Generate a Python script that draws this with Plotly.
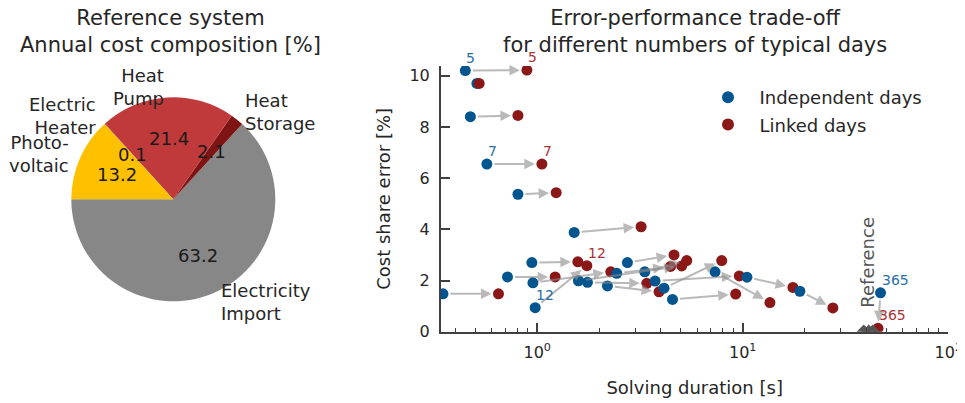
import math
import plotly.graph_objects as go

# ---------------- data ----------------
pie_labels = ["Electricity<br>Import", "Heat<br>Storage", "Heat<br>Pump", "Electric<br>Heater", "Photo-<br>voltaic"]
pie_values = [63.2, 2.1, 21.4, 0.1, 13.2]
pie_colors = ["#878787", "#7f1414", "#c0393b", "#d9534f", "#ffc000"]

# solving duration [s] and cost share error [%] for each number of typical days
ind_duration = [0.447, 0.509, 0.473, 0.569, 0.806, 1.513, 0.942, 0.717, 0.348, 0.978, 0.953, 1.587,
                1.756, 2.196, 2.439, 2.747, 3.337, 3.744, 4.141, 4.553, 7.33, 10.48, 18.96, 46.8]
ind_error = [10.20, 9.70, 8.40, 6.55, 5.37, 3.88, 2.70, 2.14, 1.48, 0.94, 1.91, 1.99,
             1.93, 1.79, 2.28, 2.70, 2.34, 1.98, 1.70, 1.26, 2.34, 2.13, 1.58, 1.52]
lnk_duration = [0.891, 0.522, 0.806, 1.054, 1.237, 3.202, 1.577, 1.223, 0.648, 1.744, 2.281, 5.048,
                3.413, 3.915, 4.453, 4.630, 5.339, 9.62, 7.90, 9.24, 13.56, 17.54, 27.44, 45.5]
lnk_error = [10.22, 9.70, 8.45, 6.55, 5.43, 4.10, 2.73, 2.14, 1.48, 2.58, 2.34, 2.57,
             1.89, 1.56, 2.55, 3.00, 2.78, 2.18, 2.78, 1.47, 1.14, 1.73, 0.93, 0.13]
day_labels = ["5", "", "", "7", "", "", "", "", "", "12", "", "",
              "", "", "", "", "", "", "", "", "", "", "", "365"]
ref_duration = [38.8, 41.0, 42.9]
ref_error = [0.0, 0.0, 0.0]

x_ticks = [1, 10, 100]
x_ticktext = ["10<sup>0</sup>", "10<sup>1</sup>", "10<sup>2</sup>"]
y_ticks = [0, 2, 4, 6, 8, 10]

# ---------------- style / geometry ----------------
OFF = 8                      # page body margin
FW, FH = 965 - OFF, 403 - OFF
FONT = "DejaVu Sans"
TXT = "#262626"
AX = "#404040"
BLUE = "#03558f"
RED = "#8b1717"
BLUE_L = "#2b6ea3"
RED_L = "#a83333"


def px(x):
    return (x - OFF) / FW


def py(y):
    return 1 - (y - OFF) / FH


fig = go.Figure()

# pie geometry (pixels in the window)
pcx, pcy, pr = 173.3, 199.3, 102.0
total = sum(pie_values)
fig.add_trace(go.Pie(
    labels=pie_labels, values=pie_values, sort=False, direction="counterclockwise",
    rotation=270 - 360 * pie_values[0] / total,
    marker=dict(colors=pie_colors, line=dict(width=0)),
    textinfo="none", hoverinfo="label+value", showlegend=False,
    domain=dict(x=[px(pcx - pr), px(pcx + pr)], y=[py(pcy + pr), py(pcy - pr)]),
))

annotations = []
cum = 0.0
for lab, v in zip(pie_labels, pie_values):
    mid = math.radians(180 + (cum + v / 2) / total * 360)
    cum += v
    c, s = math.cos(mid), math.sin(mid)
    annotations.append(dict(
        x=px(pcx + 0.6 * pr * c), y=py(pcy - 0.6 * pr * s), xref="paper", yref="paper",
        text=f"{v:.1f}", showarrow=False, font=dict(size=18, color="#1a1a1a", family=FONT),
        xanchor="center", yanchor="middle"))
    side = "left" if c >= 0 else "right"
    annotations.append(dict(
        x=px(pcx + 1.1 * pr * c), y=py(pcy - 1.1 * pr * s), xref="paper", yref="paper",
        text=lab, showarrow=False, font=dict(size=18, color=TXT, family=FONT),
        xanchor=side, align=side, yanchor="middle"))

# titles
annotations.append(dict(x=px(170), y=py(32), xref="paper", yref="paper",
                        text="Reference system<br>Annual cost composition [%]", showarrow=False,
                        font=dict(size=21, color=TXT, family=FONT), xanchor="center", yanchor="middle",
                        borderpad=0))
annotations.append(dict(x=px(694.5), y=py(32), xref="paper", yref="paper",
                        text="Error-performance trade-off<br>for different numbers of typical days",
                        showarrow=False, font=dict(size=21, color=TXT, family=FONT),
                        xanchor="center", yanchor="middle", borderpad=0))

# scatter: per pair so linked marker drawn over its independent one
n = len(ind_duration)
for i in range(n):
    fig.add_trace(go.Scatter(x=[ind_duration[i]], y=[ind_error[i]], mode="markers",
                             marker=dict(color=BLUE, size=11), name="\u00a0\u00a0Independent days",
                             legendgroup="ind", showlegend=(i == 0), xaxis="x", yaxis="y"))
    fig.add_trace(go.Scatter(x=[lnk_duration[i]], y=[lnk_error[i]], mode="markers",
                             marker=dict(color=RED, size=11), name="\u00a0\u00a0Linked days",
                             legendgroup="lnk", showlegend=(i == 0), xaxis="x", yaxis="y"))

fig.add_trace(go.Scatter(x=ref_duration, y=ref_error, mode="markers",
                         marker=dict(color="#555555", symbol="diamond", size=11),
                         showlegend=False, name="Reference"))

for i in range(n):
    annotations.append(dict(
        x=math.log10(lnk_duration[i]), y=lnk_error[i], ax=math.log10(ind_duration[i]), ay=ind_error[i],
        xref="x", yref="y", axref="x", ayref="y", text="", showarrow=True,
        arrowhead=2, arrowsize=1.05, arrowwidth=2, arrowcolor="rgba(140,140,140,0.6)",
        standoff=7, startstandoff=6))
    if day_labels[i]:
        annotations.append(dict(x=math.log10(ind_duration[i]), y=ind_error[i], xref="x", yref="y",
                                text=day_labels[i], showarrow=False, xanchor="left", yanchor="bottom",
                                xshift=-1, yshift=3, font=dict(size=14, color=BLUE_L, family=FONT)))
        annotations.append(dict(x=math.log10(lnk_duration[i]), y=lnk_error[i], xref="x", yref="y",
                                text=day_labels[i], showarrow=False, xanchor="left", yanchor="bottom",
                                xshift=-1, yshift=3, font=dict(size=14, color=RED_L, family=FONT)))

annotations.append(dict(x=math.log10(sum(ref_duration) / len(ref_duration)), y=0, xref="x", yref="y",
                        text="Reference", textangle=-90, showarrow=False, xanchor="center",
                        yanchor="bottom", yshift=22, xshift=-1,
                        font=dict(size=18, color="#555555", family=FONT)))

minor_vals = [k * 10 ** e for e in (-1, 0, 1) for k in range(2, 10)]

fig.update_layout(
    width=FW, height=FH, margin=dict(l=0, r=0, t=0, b=0),
    paper_bgcolor="white", plot_bgcolor="white", template="none",
    font=dict(family=FONT, color=TXT, size=16),
    annotations=annotations,
    showlegend=True,
    legend=dict(x=px(708), y=py(79), xanchor="left", yanchor="top",
                font=dict(size=18, color=TXT, family=FONT), bgcolor="rgba(0,0,0,0)",
                tracegroupgap=1, traceorder="grouped", itemsizing="constant"),
    xaxis=dict(domain=[px(441), px(948.3)], type="log", range=[-0.468, 2.0],
               tickvals=x_ticks, ticktext=x_ticktext, ticks="inside", ticklen=9, tickwidth=1.5,
               tickcolor=AX, showline=True, linecolor=AX, linewidth=2, showgrid=False, zeroline=False,
               tickfont=dict(size=16, color=TXT), ticklabelstandoff=5,
               minor=dict(tickvals=minor_vals, ticks="inside", ticklen=4, tickwidth=1.2,
                          tickcolor=AX, showgrid=False),
               title=dict(text="Solving duration [s]", font=dict(size=18, color=TXT), standoff=20)),
    yaxis=dict(domain=[py(331.7), py(66)], range=[0, 10.38],
               tickvals=y_ticks, ticks="inside", ticklen=9, tickwidth=1.5, tickcolor=AX,
               showline=True, linecolor=AX, linewidth=2, showgrid=False, zeroline=False,
               tickfont=dict(size=16, color=TXT), ticklabelstandoff=6,
               title=dict(text="Cost share error [%]", font=dict(size=18, color=TXT), standoff=14)),
)

fig.write_html("out.html")
